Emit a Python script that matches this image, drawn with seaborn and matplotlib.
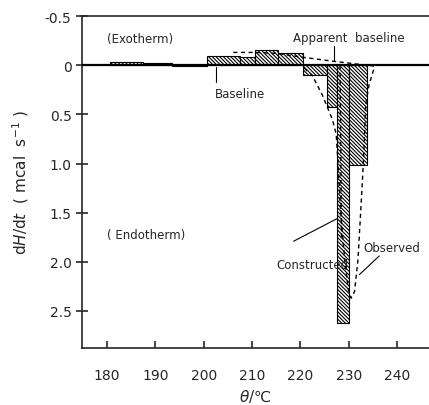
import numpy as np
import pandas as pd
import matplotlib
matplotlib.use("Agg")
import matplotlib.pyplot as plt
import seaborn as sns

# Constructed heat-flow histogram: bin edges (deg C) and dH/dt per bin (mcal/s)
bin_edges = [180.6, 187.5, 193.5, 200.7, 207.5, 210.6, 215.4, 220.6, 225.5, 227.6, 230.0, 233.8]
bin_heights = [-0.03, -0.02, 0.01, -0.09, -0.08, -0.15, -0.12, 0.10, 0.43, 2.62, 1.02]

# Observed DSC trace (dashed)
obs_temp = [220.8, 222.4, 224.5, 226.6, 227.4, 227.8, 228.4, 229.2, 229.9, 230.5,
            231.2, 231.9, 232.4, 232.8, 233.2, 233.5, 234.2, 235.3]
obs_dhdt = [0.03, 0.10, 0.30, 0.55, 0.70, 1.02, 1.55, 2.00, 2.28, 2.37,
            2.30, 1.98, 1.55, 1.20, 0.80, 0.40, 0.20, 0.02]

# Inner dashed traces through the peak
inner1_temp = [228.2, 228.5]
inner1_dhdt = [0.0, 1.75]
inner2_temp = [230.2, 230.2]
inner2_dhdt = [0.0, 1.0]

# Apparent baseline (dashed)
app_temp = [206.1, 210.6, 215.2, 220.6, 226.8, 233.8, 235.5]
app_dhdt = [-0.13, -0.13, -0.12, -0.08, -0.04, 0.0, 0.01]

x_ticks = [180, 190, 200, 210, 220, 230, 240]
y_ticks = [-0.5, 0, 0.5, 1.0, 1.5, 2.0, 2.5]
y_ticklabels = ["-0.5", "0", "0.5", "1.0", "1.5", "2.0", "2.5"]

sns.set_style("ticks")
plt.rcParams["font.family"] = ["DejaVu Sans"]
plt.rcParams["hatch.linewidth"] = 0.8

fig = plt.figure(figsize=(4.29, 4.06), dpi=100)
ax = fig.add_axes([0.191, 0.140, 0.809, 0.818])

# histogram bars
edges = np.array(bin_edges)
widths = np.diff(edges)
ax.bar(edges[:-1], bin_heights, width=widths, align="edge",
       facecolor="white", edgecolor="black", linewidth=0.8,
       hatch="\\" * 9, zorder=2)

# zero line
ax.axhline(0, color="black", lw=1.6, zorder=3)

dash = (0, (3, 2.5))
for tx, ty in [(obs_temp, obs_dhdt), (app_temp, app_dhdt),
               (inner1_temp, inner1_dhdt), (inner2_temp, inner2_dhdt)]:
    df = pd.DataFrame({"T": tx, "dHdt": ty})
    sns.lineplot(data=df, x="T", y="dHdt", sort=False, ax=ax, color="black",
                 lw=1.0, linestyle=dash, zorder=4)

ax.set_xlim(174.8, 246.6)
ax.set_ylim(2.878, -0.5)
ax.set_xticks(x_ticks)
ax.set_yticks(y_ticks)
ax.set_yticklabels(y_ticklabels)
ax.tick_params(axis="both", labelsize=10, direction="inout", length=8, width=1.2)
ax.tick_params(axis="x", direction="in", length=5, pad=14)

for side in ["left", "bottom", "top"]:
    ax.spines[side].set_linewidth(1.2)
ax.spines["right"].set_visible(False)

ax.set_xlabel(r"$\theta$/℃", fontsize=11, labelpad=4)
ax.set_ylabel(r"d$H$/d$t$  ( mcal  s$^{-1}$ )", fontsize=11, labelpad=10)

# annotations
ax.text(180.0, -0.27, "(Exotherm)", fontsize=8.5, va="center")
ax.text(180.0, 1.72, "( Endotherm)", fontsize=8.5, va="center")
ax.text(207.5, 0.29, "Baseline", fontsize=8.5, va="center", ha="center")
ax.plot([202.5, 202.5], [0.02, 0.17], color="black", lw=0.8)
ax.text(230.0, -0.28, "Apparent  baseline", fontsize=8.5, va="center", ha="center")
ax.plot([226.9, 226.9], [-0.20, -0.05], color="black", lw=0.8)
ax.text(222.5, 2.03, "Constructed", fontsize=8.5, va="center", ha="center")
ax.plot([218.6, 227.6], [1.79, 1.56], color="black", lw=0.8)
ax.text(233.0, 1.85, "Observed", fontsize=8.5, va="center", ha="left")
ax.plot([232.2, 236.3], [2.13, 1.94], color="black", lw=0.8)

fig.savefig("out.png", dpi=100)
